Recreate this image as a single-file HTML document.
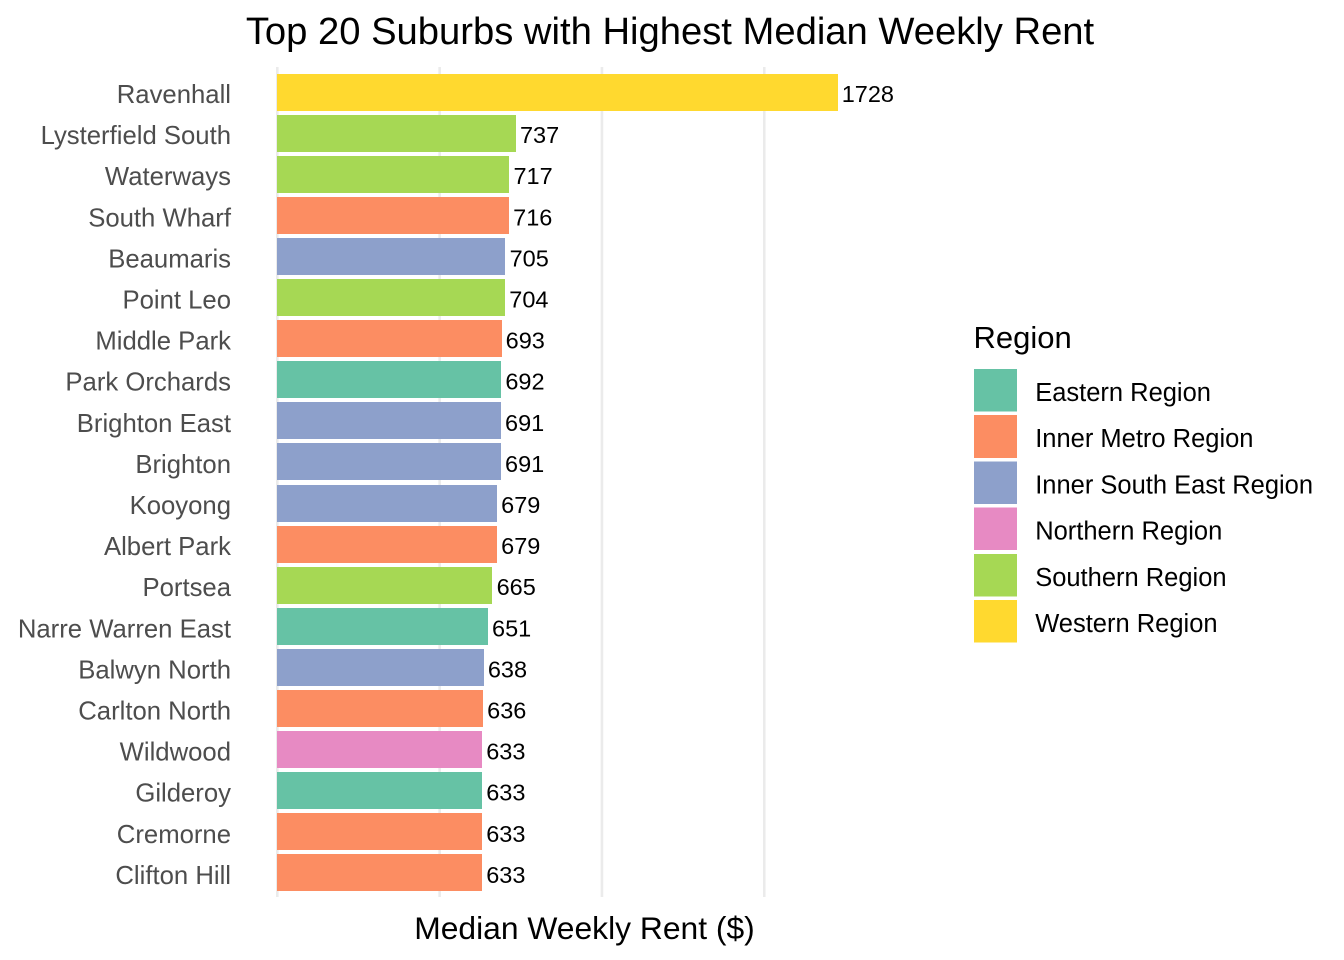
<!DOCTYPE html>
<html>
<head>
<meta charset="utf-8">
<title>Top 20 Suburbs with Highest Median Weekly Rent</title>
<style>
html,body{margin:0;padding:0;background:#fff;}
svg{display:block;font-family:"Liberation Sans",Arial,sans-serif;}
</style>
</head>
<body>
<svg id="chart" width="1344" height="960" viewBox="0 0 1344 960" xmlns="http://www.w3.org/2000/svg">
<rect x="0" y="0" width="1344" height="960" fill="#ffffff"></rect>
<text x="670" y="44" font-size="38.2px" text-anchor="middle" fill="#000">Top 20 Suburbs with Highest Median Weekly Rent</text>
<text x="584.5" y="939" font-size="31.8px" text-anchor="middle" fill="#000">Median Weekly Rent ($)</text>
<g id="grid"></g>
<g id="bars"></g>
<g id="values"></g>
<g id="yticks"></g>
<g id="legend">
<text x="973.5" y="348" font-size="31px" fill="#000">Region</text>
</g>
</svg>
<script>
const suburbs = ["Ravenhall","Lysterfield South","Waterways","South Wharf","Beaumaris","Point Leo","Middle Park","Park Orchards","Brighton East","Brighton","Kooyong","Albert Park","Portsea","Narre Warren East","Balwyn North","Carlton North","Wildwood","Gilderoy","Cremorne","Clifton Hill"];
const rents = [1728,737,717,716,705,704,693,692,691,691,679,679,665,651,638,636,633,633,633,633];
const suburbRegions = ["Western Region","Southern Region","Southern Region","Inner Metro Region","Inner South East Region","Southern Region","Inner Metro Region","Eastern Region","Inner South East Region","Inner South East Region","Inner South East Region","Inner Metro Region","Southern Region","Eastern Region","Inner South East Region","Inner Metro Region","Northern Region","Eastern Region","Inner Metro Region","Inner Metro Region"];
const regions = ["Eastern Region","Inner Metro Region","Inner South East Region","Northern Region","Southern Region","Western Region"];
const regionColors = ["#66C2A5","#FC8D62","#8DA0CB","#E78AC3","#A6D854","#FFD92F"];
const gridTicks = [0,500,1000,1500];

const NS = "http://www.w3.org/2000/svg";
const PANEL_TOP = 67, PANEL_BOTTOM = 897;
const xScale = function (v) { return 276.6 + v * (561 / 1728); };
const yCenter = function (i) { return 92.5 + i * (780 / 19); };
const textBaseline = function (i, base) { return base + i * 41.1 + 0.01; };
const BAR_H = 37;

function make(parent, tag, attrs, text) {
  const el = document.createElementNS(NS, tag);
  for (const k in attrs) el.setAttribute(k, attrs[k]);
  if (text !== undefined) el.textContent = text;
  parent.appendChild(el);
  return el;
}

const gridG = document.getElementById("grid");
gridTicks.forEach(function (t) {
  const el = make(gridG, "line", {x1: xScale(t) + 0.7, x2: xScale(t) + 0.7, y1: PANEL_TOP, y2: PANEL_BOTTOM, stroke: "#EBEBEB", "stroke-width": 2.6});
  
  
});

const barsG = document.getElementById("bars");
const valuesG = document.getElementById("values");
const yG = document.getElementById("yticks");
suburbs.forEach(function (name, i) {
  const color = regionColors[regions.indexOf(suburbRegions[i])];
  const cy = yCenter(i);
  const bar = make(barsG, "rect", {x: 277, y: Math.round(cy - BAR_H / 2), width: Math.round(xScale(rents[i])) - 277, height: BAR_H, fill: color, "shape-rendering": "crispEdges"});
  
  
  const val = make(valuesG, "text", {x: xScale(rents[i]) + 4.1, y: textBaseline(i, 102), "font-size": "23.5px", fill: "#000"}, String(rents[i]));
  
  
  const lab = make(yG, "text", {x: 231, y: textBaseline(i, 103), "font-size": "25.7px", "text-anchor": "end", fill: "#4D4D4D"}, name);
  
  
});

const legendG = document.getElementById("legend");
regions.forEach(function (r, i) {
  const top = 369 + i * 46.2;
  const sw = make(legendG, "rect", {x: 974, y: top, width: 43, height: 42.6, fill: regionColors[i], "shape-rendering": "crispEdges"});
  
  
  const tx = make(legendG, "text", {x: 1035.2, y: top + 32, "font-size": "25.5px", fill: "#000"}, r);
  
  
});
</script>
</body>
</html>
